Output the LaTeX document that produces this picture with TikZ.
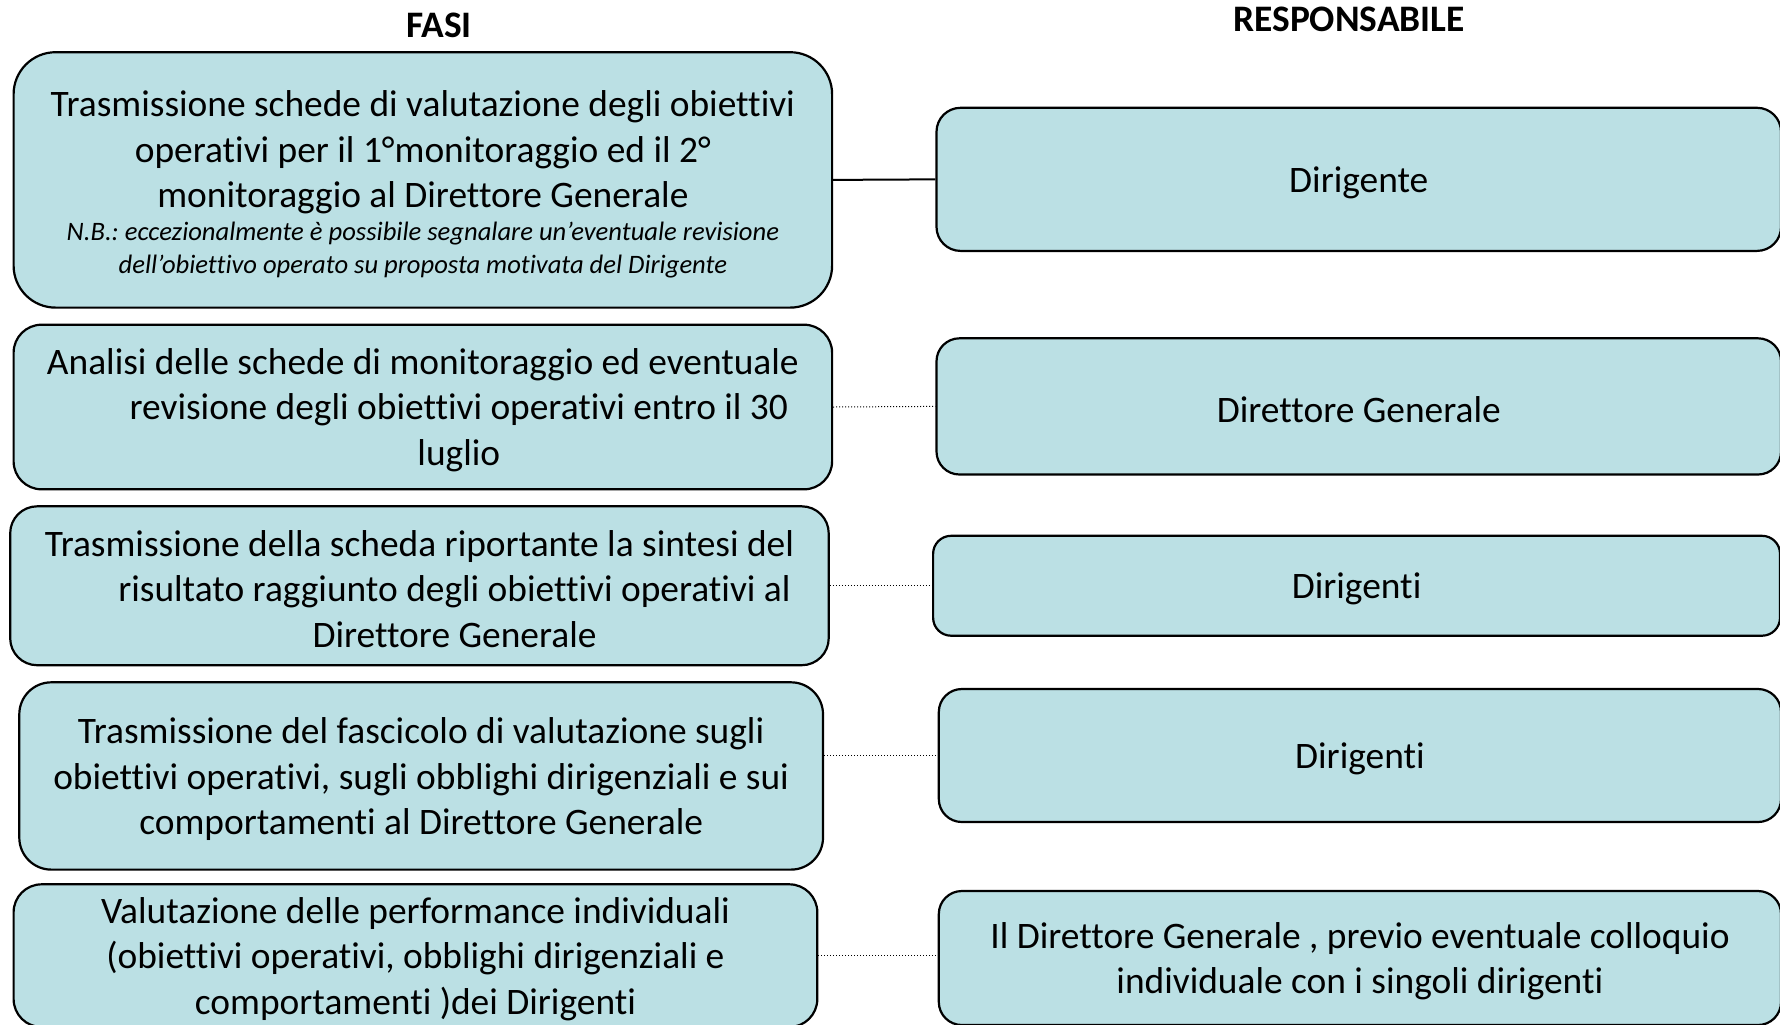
\documentclass[tikz,border=0pt]{standalone}
\usepackage{fontspec}
\setmainfont[Ligatures=NoCommon]{Carlito}
\begin{document}
\begin{tikzpicture}[x=0.5pt,y=-0.5pt,
  box/.style={draw=black,line width=1.1pt,fill=boxfill,inner sep=0pt},
  txt/.style={inner sep=0pt,align=center,yshift=-1.6pt,
    font=\fontsize{18.7}{22.7}\selectfont\frenchspacing},
  head/.style={font=\bfseries\fontsize{18.7}{22.7}\selectfont,inner sep=0pt},
  solidlink/.style={draw=black,line width=1pt},
  dotlink/.style={draw=black,line width=0.5pt,dash pattern=on 0.5pt off 1pt}]
\definecolor{boxfill}{RGB}{187,224,228}
\useasboundingbox (0,0) rectangle (1780,1024);
\node[head] (hfasi) at (439,25) {FASI};
\node[head] (hresp) at (1349,19) {RESPONSABILE};
% left column boxes
\node[box,minimum width=409.25pt,minimum height=127.7pt,rounded corners=21pt] (L1) at (422.85,179.9) {};
\node[box,minimum width=409.25pt,minimum height=82.3pt,rounded corners=14pt] (L2) at (422.85,407) {};
\node[box,minimum width=409.25pt,minimum height=79.45pt,rounded corners=13.5pt] (L3) at (419.45,585.75) {};
\node[box,minimum width=401.85pt,minimum height=93.65pt,rounded corners=16pt] (L4) at (421.15,775.95) {};
\node[box,minimum width=401.85pt,minimum height=71.35pt,rounded corners=14pt] (L5) at (415.45,955.65) {};
% right column boxes
\node[box,minimum width=422.25pt,minimum height=71.55pt,rounded corners=12pt] (R1) at (1358.75,179.35) {};
\node[box,minimum width=422.25pt,minimum height=68.1pt,rounded corners=11.5pt] (R2) at (1358.75,406.4) {};
\node[box,minimum width=423.45pt,minimum height=49.95pt,rounded corners=9pt] (R3) at (1356.55,585.75) {};
\node[box,minimum width=421.1pt,minimum height=66.5pt,rounded corners=11.5pt] (R4) at (1359.9,755.5) {};
\node[box,minimum width=421.1pt,minimum height=67pt,rounded corners=11.5pt] (R5) at (1359.9,958) {};
% texts
\node[txt,yshift=-2pt] (L1t) at (L1.center)
 {Trasmissione schede di valutazione degli obiettivi\\
  operativi per il 1°monitoraggio ed il 2°\\
  monitoraggio al Direttore Generale\\[-6.2pt]
  {\fontsize{13.3}{16.5}\selectfont\itshape\frenchspacing
  \begin{tabular}[t]{@{}c@{}}N.B.: eccezionalmente è possibile segnalare un’eventuale revisione\\
  dell’obiettivo operato su proposta motivata del Dirigente\end{tabular}}};
\node[txt] (L2t) at (L2.center)
 {Analisi delle schede di monitoraggio ed eventuale\\
  \hspace*{36pt}revisione degli obiettivi operativi entro il 30\\
  \hspace*{36pt}luglio};
\node[txt] (L3t) at (L3.center)
 {Trasmissione della scheda riportante la sintesi del\\
  \hspace*{35pt}risultato raggiunto degli obiettivi operativi al\\
  \hspace*{35pt}Direttore Generale};
\node[txt] (L4t) at (L4.center)
 {Trasmissione del fascicolo di valutazione sugli\\
  obiettivi operativi, sugli obblighi dirigenziali e sui\\
  comportamenti al Direttore Generale};
\node[txt] (L5t) at (L5.center)
 {Valutazione delle performance individuali\\
  (obiettivi operativi, obblighi dirigenziali e\\
  comportamenti )dei Dirigenti};
\node[txt] (R1t) at (R1.center) {Dirigente};
\node[txt] (R2t) at (R2.center) {Direttore Generale};
\node[txt] (R3t) at (R3.center) {Dirigenti};
\node[txt] (R4t) at (R4.center) {Dirigenti};
\node[txt] (R5t) at (R5.center)
 {Il Direttore Generale , previo eventuale colloquio\\individuale con i singoli dirigenti};
% connectors
\draw[solidlink] (L1.east) -- (R1.west);
\draw[dotlink] (L2.east) -- (R2.west);
\draw[dotlink] (L3.east) -- (R3.west);
\draw[dotlink] (R4.west -| L4.east) -- (R4.west);
\draw[dotlink] (L5.east) -- (L5.east -| R5.west);
\end{tikzpicture}
\end{document}
